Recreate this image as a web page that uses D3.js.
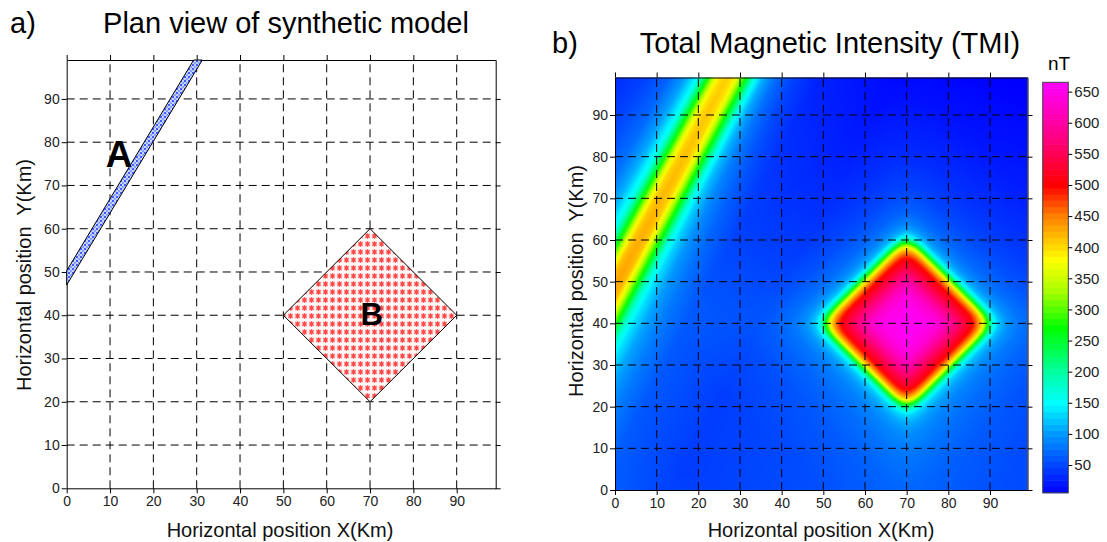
<!DOCTYPE html>
<html>
<head>
<meta charset="UTF-8">
<style>
  body { margin: 0; background: #fff; font-family: "Liberation Sans", Arial, sans-serif; }
  .tick text { font-size: 14px; fill: #222; font-family: "Liberation Sans", Arial, sans-serif; }
  .tick line, .domain { stroke: #000; }
  .grid line { stroke: #000; stroke-width: 1; stroke-dasharray: 8,5; }
  .title { font-size: 29px; fill: #000; }
  .axlabel { font-size: 20px; fill: #111; }
</style>
</head>
<body>
<svg width="1107" height="542"></svg>
<script src="https://cdn.jsdelivr.net/npm/d3@7"></script>
<script>
// ticks
const xTicks = [0, 10, 20, 30, 40, 50, 60, 70, 80, 90];
const yTicks = [0, 10, 20, 30, 40, 50, 60, 70, 80, 90];
const cbTicks = [50, 100, 150, 200, 250, 300, 350, 400, 450, 500, 550, 600, 650];

// model bodies (km), read off panel a)
const dykeA = [[0, 47], [31.3, 99], [29.3, 99], [0, 50.3]];
const bodyB = [[50, 40], [70, 60], [90, 40], [70, 20]];
const bodyLabels = [["A", 12.1, 74.3, 37], ["B", 70.4, 37.7, 31]];

// TMI readings from panel b)
// axis of the dyke anomaly (two points read on the orange crest)
const dykeCrest = [[0.5, 50], [26.8, 99]];
// anomaly across the dyke crest, by horizontal offset (km) -> nT above background
const dykeOffset = [-40, -30, -20, -14, -10, -7, -5, -3, -1.8, 0, 1.8, 3, 5, 7, 9, 12, 16, 22, 30, 40];
const dykeExcess = [5, 25, 45, 65, 100, 150, 240, 350, 390, 405, 390, 345, 245, 150, 105, 70, 45, 22, 12, 0];
// anomaly of body B, by distance from its centre (70,40) along the x axis (km)
const bodyDist = [0, 5, 8, 10, 12, 14, 15.5, 16.5, 17.3, 18.2, 19.2, 20, 20.8, 22, 24, 27, 32, 40, 55, 80, 200];
const bodyExcess = [635, 625, 605, 575, 540, 505, 480, 445, 410, 360, 260, 190, 135, 95, 70, 52, 38, 25, 12, 3, 0];
// regional background by y (km)
const bgY = [0, 50, 99];
const bgVal = [45, 22, 0];

// colour table
const cmapVal = [5, 50, 100, 150, 200, 270, 330, 380, 450, 500, 575, 665];
const cmapCol = ["#0000ff", "#0044ff", "#0099ff", "#00ffff", "#00ffa0", "#00ff00", "#a8ff00",
                 "#ffff00", "#ff8000", "#ff0000", "#ff0080", "#ff00ff"];

const svg = d3.select("svg");
svg.append("rect").attr("width", 1107).attr("height", 542).attr("fill", "#fff");

const defs = svg.append("defs");
// blue dotted fill for A
const pA = defs.append("pattern").attr("id", "patA").attr("patternUnits", "userSpaceOnUse")
  .attr("width", 4).attr("height", 4);
pA.append("rect").attr("width", 4).attr("height", 4).attr("fill", "#c4d2ff");
pA.append("circle").attr("cx", 1).attr("cy", 1).attr("r", 1).attr("fill", "#1a36ff");
pA.append("circle").attr("cx", 3).attr("cy", 3).attr("r", 0.8).attr("fill", "#4060ff");
// red star fill for B
const pB = defs.append("pattern").attr("id", "patB").attr("patternUnits", "userSpaceOnUse")
  .attr("width", 7).attr("height", 8);
pB.append("rect").attr("width", 7).attr("height", 8).attr("fill", "#fff6f6");
pB.append("path").attr("d", "M3.5,1.2v5.6M0.9,4h5.2M1.5,1.9l4,4.2M5.5,1.9l-4,4.2")
  .attr("stroke", "#ff4848").attr("stroke-width", 1.1).attr("fill", "none");

function frame(g, x, y) {
  g.append("g").attr("class", "grid").selectAll("line.vx").data(xTicks.filter(d => d > 0)).join("line")
    .attr("x1", d => x(d)).attr("x2", d => x(d)).attr("y1", y(0)).attr("y2", y(99));
  g.append("g").attr("class", "grid").selectAll("line.hy").data(yTicks.filter(d => d > 0)).join("line")
    .attr("y1", d => y(d)).attr("y2", d => y(d)).attr("x1", x(0)).attr("x2", x(99));
  g.append("g").attr("transform", `translate(0,${y(0)})`)
    .call(d3.axisBottom(x).tickValues(xTicks).tickSize(5).tickSizeOuter(0).tickPadding(3));
  g.append("g").attr("transform", `translate(0,${y(99)})`)
    .call(d3.axisTop(x).tickValues(xTicks).tickSize(5).tickSizeOuter(0).tickFormat(""));
  g.append("g").attr("transform", `translate(${x(0)},0)`)
    .call(d3.axisLeft(y).tickValues(yTicks).tickSize(5).tickSizeOuter(0).tickPadding(2));
  g.append("g").attr("transform", `translate(${x(99)},0)`)
    .call(d3.axisRight(y).tickValues(yTicks).tickSize(5).tickSizeOuter(0).tickFormat(""));
}

// ---------- panel a ----------
const xA = d3.scaleLinear().domain([0, 99]).range([66.7, 495.7]);
const yA = d3.scaleLinear().domain([0, 99]).range([488.3, 60]);
const gA = svg.append("g");
frame(gA, xA, yA);
const poly = d3.line().x(d => xA(d[0])).y(d => yA(d[1])).curve(d3.curveLinearClosed);
gA.append("path").attr("d", poly(dykeA)).attr("fill", "url(#patA)").attr("stroke", "#000").attr("stroke-width", 1);
gA.append("path").attr("d", poly(bodyB)).attr("fill", "url(#patB)").attr("stroke", "#000").attr("stroke-width", 1);
gA.selectAll("text.lab").data(bodyLabels).join("text")
  .attr("x", d => xA(d[1])).attr("y", d => yA(d[2])).attr("text-anchor", "middle")
  .attr("font-size", d => d[3]).attr("font-weight", "bold").text(d => d[0]);

svg.append("text").attr("class", "title").attr("x", 10).attr("y", 33).text("a)");
svg.append("text").attr("class", "title").attr("x", 286).attr("y", 33).attr("text-anchor", "middle")
  .text("Plan view of synthetic model");
svg.append("text").attr("class", "axlabel").attr("x", 280).attr("y", 537).attr("text-anchor", "middle")
  .text("Horizontal position X(Km)");
svg.append("text").attr("class", "axlabel").attr("transform", "translate(31,275) rotate(-90)")
  .attr("text-anchor", "middle").attr("xml:space", "preserve").text("Horizontal position  Y(Km)");

// ---------- panel b ----------
const xB = d3.scaleLinear().domain([0, 99]).range([615, 1027.5]);
const yB = d3.scaleLinear().domain([0, 99]).range([490, 77.5]);
const color = d3.scaleLinear().domain(cmapVal).range(cmapCol).clamp(true);

const dykeScale = d3.scaleLinear().domain(dykeOffset).range(dykeExcess).clamp(true);
const bodyScale = d3.scaleLinear().domain(bodyDist).range(bodyExcess).clamp(true);
const bgScale = d3.scaleLinear().domain(bgY).range(bgVal).clamp(true);
const crestX = d3.scaleLinear().domain(dykeCrest.map(d => d[1])).range(dykeCrest.map(d => d[0]));

function tmi(x, y) {
  const h = x - crestX(y);
  const a = x - 70, b = y - 40;
  const u = Math.abs(a + b) / Math.SQRT2, v = Math.abs(a - b) / Math.SQRT2, p = 8;
  const dB = Math.pow(Math.pow(u, p) + Math.pow(v, p), 1 / p) * Math.SQRT2 / Math.pow(2, 1 / p);
  return bgScale(y) + dykeScale(h) + bodyScale(dB);
}

const N = 198, cell = 99 / N;
const canvas = document.createElement("canvas");
canvas.width = N; canvas.height = N;
const ctx = canvas.getContext("2d");
const img = ctx.createImageData(N, N);
for (let j = 0; j < N; j++) {
  for (let i = 0; i < N; i++) {
    const c = d3.rgb(color(tmi((i + 0.5) * cell, 99 - (j + 0.5) * cell)));
    const k = 4 * (j * N + i);
    img.data[k] = c.r; img.data[k + 1] = c.g; img.data[k + 2] = c.b; img.data[k + 3] = 255;
  }
}
ctx.putImageData(img, 0, 0);

const gB = svg.append("g");
gB.append("image").attr("href", canvas.toDataURL())
  .attr("x", xB(0)).attr("y", yB(99)).attr("width", xB(99) - xB(0)).attr("height", yB(0) - yB(99))
  .attr("preserveAspectRatio", "none");
frame(gB, xB, yB);

svg.append("text").attr("class", "title").attr("x", 552).attr("y", 52.5).text("b)");
svg.append("text").attr("class", "title").attr("x", 830).attr("y", 52.5).attr("text-anchor", "middle")
  .text("Total Magnetic Intensity (TMI)");
svg.append("text").attr("class", "axlabel").attr("x", 821).attr("y", 537).attr("text-anchor", "middle")
  .text("Horizontal position X(Km)");
svg.append("text").attr("class", "axlabel").attr("transform", "translate(583,281) rotate(-90)")
  .attr("text-anchor", "middle").attr("xml:space", "preserve").text("Horizontal position  Y(Km)");

// ---------- colour bar ----------
const cbY = d3.scaleLinear().domain([5.5, 665]).range([492.7, 82.3]);
const cbX0 = 1042.7, cbW = 25.6;
const levels = d3.range(5.5, 665, 10);
svg.append("g").selectAll("rect").data(levels).join("rect")
  .attr("x", cbX0).attr("width", cbW)
  .attr("y", d => cbY(Math.min(d + 10, 665))).attr("height", d => cbY(d) - cbY(Math.min(d + 10, 665)) + 0.6)
  .attr("fill", d => color(d + 5));
svg.append("rect").attr("x", cbX0).attr("y", cbY(665)).attr("width", cbW).attr("height", cbY(5.5) - cbY(665))
  .attr("fill", "none").attr("stroke", "#444").attr("stroke-width", 1);
svg.append("g").attr("transform", `translate(${cbX0 + cbW},0)`)
  .call(d3.axisRight(cbY).tickValues(cbTicks).tickSize(4).tickPadding(2).tickSizeOuter(0))
  .call(g => g.select(".domain").remove())
  .selectAll("text").style("font-size", "15px");
svg.append("text").attr("x", 1059).attr("y", 70).attr("text-anchor", "middle")
  .attr("font-size", 19).text("nT");
</script>
</body>
</html>
